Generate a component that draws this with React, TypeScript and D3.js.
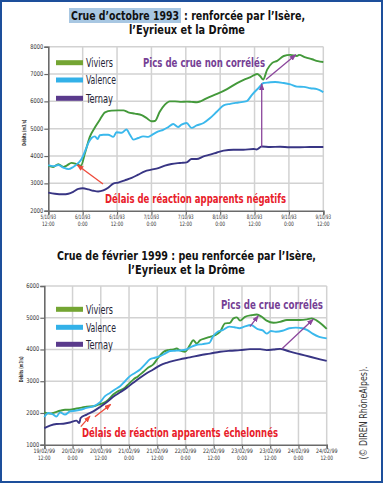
import React, { useEffect, useRef } from 'react';
import * as d3 from 'd3';

// ---- 1993 flood: [hours since 5/10/93 12:00, m3/s]
const dates93 = [
	['5/10/93', '12:00'], ['6/10/93', '0:00'], ['6/10/93', '12:00'], ['7/10/93', '0:00'], ['7/10/93', '12:00'],
	['8/10/93', '0:00'], ['8/10/93', '12:00'], ['9/10/93', '0:00'], ['9/10/93', '12:00'],
];
const yTicks93 = [2000, 3000, 4000, 5000, 6000, 7000, 8000];

const viviers93: [number, number][] = [
	[0, 3650], [1.7, 3600], [3.5, 3700], [5.2, 3600], [6.4, 3650], [8.1, 3750], [9.9, 3700], [11.4, 3650],
	[12.8, 4100], [14.5, 4700], [16.3, 5050], [18, 5330], [19.8, 5600], [22.1, 5660], [24.4, 5670], [26.2, 5670],
	[27.9, 5600], [30.2, 5550], [32.6, 5500], [34.3, 5390], [36, 5270], [37.2, 5280], [38.9, 5620], [40.7, 5880],
	[42.4, 6000], [44.2, 6000], [46.5, 5980], [48.3, 5990], [50, 5980], [51.9, 5970], [53.1, 6000], [55.4, 6120],
	[58.9, 6270], [62.4, 6450], [65.9, 6670], [68.2, 6790], [70.6, 6890], [72.9, 7000], [74, 6920], [75, 6800],
	[76.4, 7160], [78.1, 7400], [79.9, 7480], [82.2, 7660], [84.5, 7700], [86.8, 7660], [87.5, 7700], [89.8, 7610],
	[92.1, 7540], [94.1, 7470], [96, 7440],
];
const valence93: [number, number][] = [
	[0, 3670], [1.7, 3630], [3.5, 3670], [5.2, 3580], [7, 3520], [8.7, 3600], [10.5, 3750], [11.6, 3890],
	[12.8, 4170], [14, 4480], [15.1, 4660], [16.3, 4720], [17.2, 4620], [18, 4760], [19.2, 4780], [20.9, 4780],
	[22.7, 4700], [23.8, 4870], [25.6, 4850], [27.3, 4970], [28.5, 4780], [29.7, 4600], [31.4, 4660], [33.1, 4720],
	[34.9, 4700], [36.6, 4800], [38.4, 4900], [40.1, 4960], [41.9, 5060], [43.6, 5170], [45.3, 5060], [46.5, 5150],
	[48.3, 5210], [50, 5030], [51.8, 5120], [54.2, 5210], [56.5, 5390], [58.9, 5630], [61.2, 5850], [63.5, 5910],
	[66.4, 5960], [69.3, 6010], [71.1, 6240], [73.4, 6490], [75.1, 6670], [76.9, 6690], [79.2, 6710], [82.2, 6670],
	[84.5, 6620], [86.8, 6540], [89.2, 6530], [91.5, 6480], [93.8, 6450], [96, 6340],
];
const ternay93: [number, number][] = [
	[0, 2660], [2.3, 2620], [5.2, 2600], [7, 2620], [8.7, 2690], [10.5, 2800], [12, 2820], [14, 2780],
	[15.7, 2730], [17.4, 2700], [19.2, 2740], [20.9, 2840], [22.7, 2990], [24.4, 3030], [26.7, 3110], [29.1, 3200],
	[31.4, 3320], [33.7, 3440], [36, 3500], [38.4, 3560], [40.7, 3650], [43, 3710], [45.3, 3740], [46.5, 3750],
	[48.3, 3770], [50, 3890], [51.8, 3890], [54.2, 3990], [56.5, 4050], [58.9, 4130], [61.2, 4200], [64.6, 4230],
	[68.1, 4230], [71.6, 4260], [72.7, 4240], [74.5, 4350], [77.4, 4330], [80.9, 4340], [84.3, 4320], [87.8, 4320],
	[91.3, 4330], [96, 4330],
];

// ---- 1999 flood: [hours since 19/02/99 12:00, m3/s]
const dates99 = [
	['19/02/99', '12:00'], ['20/02/99', '0:00'], ['20/02/99', '12:00'], ['21/02/99', '0:00'], ['21/02/99', '12:00'],
	['22/02/99', '0:00'], ['22/02/99', '12:00'], ['23/02/99', '0:00'], ['23/02/99', '12:00'], ['24/02/99', '0:00'],
	['24/02/99', '12:00'],
];
const yTicks99 = [1000, 2000, 3000, 4000, 5000, 6000];

const viviers99: [number, number][] = [
	[0, 2020], [2.4, 1980], [4.5, 2020], [6.7, 2070], [8.8, 2100], [10.9, 2100], [13.7, 2140], [15.9, 2170],
	[18, 2200], [20.8, 2210], [22.9, 2260], [25, 2310], [27.2, 2420], [29.3, 2580], [31.4, 2690], [33.6, 2760],
	[35.7, 2900], [37.8, 3050], [39.9, 3160], [42, 3290], [44.2, 3430], [46.3, 3530], [48.4, 3740], [50.6, 3920],
	[52.7, 3980], [54.8, 4000], [56.2, 4030], [57.6, 3970], [59.8, 3930], [61.9, 4140], [63.3, 4290], [64.8, 4190],
	[66.2, 4290], [68.3, 4350], [70.4, 4400], [72.6, 4450], [74.7, 4560], [76.8, 4820], [78.9, 4840], [80.4, 4980],
	[81.8, 5010], [83.2, 4910], [85.3, 5030], [88.1, 5080], [90.3, 5100], [92.4, 5030], [94.5, 4910], [97.4, 4840],
	[100.2, 4870], [103.1, 4930], [105.9, 4930], [108.7, 4930], [111.6, 4950], [113.7, 4980], [115.8, 4910],
	[118, 4790], [120, 4650],
];
const valence99: [number, number][] = [
	[0, 1870], [1.7, 2000], [3.8, 1950], [5.2, 1890], [6.7, 2020], [8.8, 1950], [10.9, 2050], [13, 2070],
	[15.2, 2100], [18, 2160], [20.8, 2210], [23.7, 2340], [25.8, 2530], [27.9, 2630], [30, 2740], [32.2, 2840],
	[34.3, 3000], [36.4, 3160], [38.5, 3260], [40.7, 3370], [42.8, 3530], [44.9, 3690], [47, 3740], [49.2, 3790],
	[51.3, 3870], [53.4, 3950], [55.5, 3960], [57.6, 3970], [60.3, 4000], [62.4, 4080], [64.5, 4140], [67.3, 4170],
	[70.2, 4210], [71.6, 4400], [73.7, 4560], [75.8, 4610], [78.6, 4720], [80.8, 4700], [82.9, 4670], [85, 4720],
	[87.8, 4770], [90.7, 4640], [92.8, 4600], [94.5, 4500], [96.3, 4580], [98.4, 4560], [101.2, 4590], [104.1, 4670],
	[106.9, 4690], [109.7, 4670], [111.8, 4610], [114, 4500], [116.8, 4400], [120, 4350],
];
const ternay99: [number, number][] = [
	[0, 1520], [2.4, 1600], [5.2, 1650], [8.1, 1660], [10.9, 1700], [13.7, 1760], [14.9, 1680], [15.4, 1840],
	[18, 1950], [20.8, 2050], [23.7, 2190], [26.5, 2340], [29.3, 2510], [32.2, 2650], [35, 2790], [37.8, 2950],
	[40.7, 3110], [43.5, 3250], [46.3, 3370], [49.2, 3500], [52, 3580], [54.8, 3640], [57.6, 3690], [61.9, 3750],
	[66.2, 3820], [70.4, 3870], [74.7, 3930], [78.9, 3960], [83.2, 3980], [87.4, 4010], [91.7, 4010], [94.5, 3980],
	[97.4, 4000], [100.2, 4020], [101.6, 4000], [104.4, 3930], [108.7, 3850], [112.9, 3770], [117.2, 3690],
	[120, 3640],
];

// arrows in data coords: [h1, v1, h2, v2]
const pics93 = [[74.5, 4340, 74.5, 6640], [76, 6800, 86.4, 7710]];
const delais93 = [[19.1, 2975, 10.1, 3670]];
const pics99 = [[87.4, 4720, 90.9, 5060], [100.9, 4015, 114.3, 4950]];
const delais99 = [[15.5, 1570, 19.4, 1900], [21.5, 1880, 28.2, 2270]];

const stations = ['Viviers', 'Valence', 'Ternay'];
const lineColors = ['#43993a', '#3ab8ec', '#383584'];
const legendColors = ['#74a533', '#33b1e8', '#5a3a8c'];

const FONT = "'DejaVu Sans Condensed', 'Liberation Sans Narrow', 'Roboto Condensed', 'Open Sans', sans-serif";
const PURPLE = '#763f95';
const RED = '#e8202a';

function drawPanel(svg: any, p: any) {
	const x = d3.scaleLinear().domain([0, (p.dates.length - 1) * 12]).range([p.left, p.right]);
	const y = d3.scaleLinear().domain([p.yTicks[0], p.yTicks[p.yTicks.length - 1]]).range([p.bottom, p.top]);
	const g = svg.append('g');
	const hours = p.dates.map((_: any, i: number) => i * 12);

	// grid
	g.selectAll('line.gh').data(p.yTicks.slice(1)).join('line')
		.attr('x1', p.left).attr('x2', p.right)
		.attr('y1', (d: number) => y(d)).attr('y2', (d: number) => y(d))
		.attr('stroke', '#d2d2d2').attr('stroke-width', 1.5);
	g.selectAll('line.gv').data(hours.slice(1)).join('line')
		.attr('x1', (d: number) => x(d)).attr('x2', (d: number) => x(d))
		.attr('y1', p.top).attr('y2', p.bottom)
		.attr('stroke', '#d2d2d2').attr('stroke-width', 1.5);

	// axes
	const yAxis = g.append('g').attr('transform', `translate(${p.left},0)`)
		.call(d3.axisLeft(y).tickValues(p.yTicks).tickSize(4).tickFormat(() => ''));
	const xAxis = g.append('g').attr('transform', `translate(0,${p.bottom})`)
		.call(d3.axisBottom(x).tickValues(hours).tickSize(4).tickFormat(() => ''));
	[yAxis, xAxis].forEach((a) => {
		a.select('.domain').attr('stroke', '#6a6a6a').attr('stroke-width', 1.6);
		a.selectAll('.tick line').attr('stroke', '#6a6a6a').attr('stroke-width', 1.2);
	});

	g.selectAll('text.yl').data(p.yTicks).join('text')
		.attr('x', p.left - 5).attr('y', (d: number) => y(d) + 2)
		.attr('text-anchor', 'end').attr('font-family', FONT).attr('font-size', 6.5)
		.attr('fill', '#333').attr('textLength', 13).attr('lengthAdjust', 'spacingAndGlyphs')
		.text((d: number) => d);

	const xl = g.selectAll('g.xl').data(p.dates).join('g')
		.attr('transform', (_: any, i: number) => `translate(${x(i * 12)},0)`);
	xl.append('text').attr('y', p.bottom + 8.5).attr('text-anchor', 'middle')
		.attr('font-family', FONT).attr('font-size', 6).attr('fill', '#333')
		.attr('textLength', (d: string[]) => d[0].length * p.dateChar).attr('lengthAdjust', 'spacingAndGlyphs')
		.text((d: string[]) => d[0]);
	xl.append('text').attr('y', p.bottom + 15.5).attr('text-anchor', 'middle')
		.attr('font-family', FONT).attr('font-size', 6).attr('fill', '#333')
		.attr('textLength', (d: string[]) => d[1].length * 2.5).attr('lengthAdjust', 'spacingAndGlyphs')
		.text((d: string[]) => d[1]);

	g.append('text')
		.attr('transform', `translate(${p.yTitleX},${(p.top + p.bottom) / 2 + 4}) rotate(-90)`)
		.attr('text-anchor', 'middle').attr('font-family', FONT).attr('font-size', 5.5)
		.attr('font-weight', 'bold').attr('fill', '#333')
		.attr('textLength', 26).attr('lengthAdjust', 'spacingAndGlyphs')
		.text('Débits (m3/s)');

	// series
	const line = d3.line<[number, number]>().x((d) => x(d[0])).y((d) => y(d[1])).curve(d3.curveMonotoneX);
	g.selectAll('path.s').data(p.series).join('path')
		.attr('d', (d: [number, number][]) => line(d))
		.attr('fill', 'none')
		.attr('stroke', (_: any, i: number) => lineColors[i])
		.attr('stroke-width', 1.9)
		.attr('stroke-linejoin', 'round');

	// legend
	const lg = g.selectAll('g.lg').data(stations).join('g')
		.attr('transform', (_: any, i: number) => `translate(56,${p.legendY[i]})`);
	lg.append('line').attr('x1', 0).attr('x2', 27).attr('stroke-width', 5)
		.attr('stroke', (_: any, i: number) => legendColors[i]);
	lg.append('text').attr('x', 30).attr('y', 4.3)
		.attr('font-family', FONT).attr('font-size', 12.5).attr('fill', '#262636')
		.attr('textLength', (d: string) => (d === 'Valence' ? 30 : 27)).attr('lengthAdjust', 'spacingAndGlyphs')
		.text((d: string) => d);

	// annotations
	const arrows = (data: number[][], color: string, marker: string, w: number) => {
		g.selectAll(null).data(data).join('line')
			.attr('x1', (d: number[]) => x(d[0])).attr('y1', (d: number[]) => y(d[1]))
			.attr('x2', (d: number[]) => x(d[2])).attr('y2', (d: number[]) => y(d[3]))
			.attr('stroke', color).attr('stroke-width', w).attr('marker-end', `url(#${marker})`);
	};
	arrows(p.pics, '#8b469c', 'arrP', 1.3);
	arrows(p.delais, '#ee4a3b', 'arrR', 1.3);

	p.notes.forEach((n: any) => {
		g.append('text').attr('x', n.x).attr('y', n.y)
			.attr('font-family', FONT).attr('font-size', 12.5).attr('font-weight', 'bold')
			.attr('fill', n.color).attr('textLength', n.w).attr('lengthAdjust', 'spacingAndGlyphs')
			.text(n.text);
	});
}

export default function App() {
	const ref = useRef<SVGSVGElement>(null);

	useEffect(() => {
		const svg = d3.select(ref.current);
		svg.selectAll('*').remove();

		const defs = svg.append('defs');
		[['arrP', '#8b469c'], ['arrR', '#ee4a3b']].forEach(([id, c]) => {
			defs.append('marker').attr('id', id).attr('viewBox', '0 0 8 6')
				.attr('refX', 7).attr('refY', 3).attr('markerWidth', 7).attr('markerHeight', 5.5)
				.attr('markerUnits', 'userSpaceOnUse').attr('orient', 'auto')
				.append('path').attr('d', 'M0,0 L8,3 L0,6 z').attr('fill', c);
		});

		svg.append('rect').attr('x', 0).attr('y', 0).attr('width', 385).attr('height', 484).attr('fill', '#fff');
		svg.append('rect').attr('x', 1).attr('y', 1).attr('width', 381).attr('height', 481)
			.attr('fill', 'none').attr('stroke', '#1d4f9b').attr('stroke-width', 2);

		// titles
		svg.append('rect').attr('x', 69).attr('y', 8).attr('width', 112).attr('height', 15).attr('fill', '#a8c7e2');
		const title = (t: string, tx: number, ty: number, w: number) =>
			svg.append('text').attr('x', tx).attr('y', ty).attr('font-family', FONT).attr('font-size', 12)
				.attr('font-weight', 'bold').attr('fill', '#111')
				.attr('textLength', w).attr('lengthAdjust', 'spacingAndGlyphs').text(t);
		title('Crue d’octobre 1993', 71, 20, 108);
		title(': renforcée par l’Isère,', 184, 20, 121);
		title('l’Eyrieux et la Drôme', 129, 34, 116);
		title('Crue de février 1999 : peu renforcée par l’Isère,', 57, 260, 259);
		title('l’Eyrieux et la Drôme', 128, 274, 117);

		drawPanel(svg, {
			dates: dates93, yTicks: yTicks93, left: 48.3, right: 323.3, top: 46.7, bottom: 210.7,
			series: [viviers93, valence93, ternay93], legendY: [62.7, 80, 98.3], yTitleX: 26, dateChar: 2.2,
			pics: pics93, delais: delais93,
			notes: [
				{ text: 'Pics de crue non corrélés', x: 143, y: 66.5, w: 122, color: PURPLE },
				{ text: 'Délais de réaction apparents négatifs', x: 105, y: 202.5, w: 181, color: RED },
			],
		});
		drawPanel(svg, {
			dates: dates99, yTicks: yTicks99, left: 44.3, right: 326.7, top: 286, bottom: 444.7,
			series: [viviers99, valence99, ternay99], legendY: [309.3, 327.3, 344.3], yTitleX: 22.5, dateChar: 2.7,
			pics: pics99, delais: delais99,
			notes: [
				{ text: 'Pics de crue corrélés', x: 221, y: 309, w: 102, color: PURPLE },
				{ text: 'Délais de réaction apparents échelonnés', x: 82, y: 437, w: 196, color: RED },
			],
		});

		svg.append('text').attr('transform', 'translate(367,413) rotate(-90)')
			.attr('text-anchor', 'middle').attr('font-family', FONT).attr('font-size', 10.5).attr('fill', '#333')
			.attr('textLength', 93).attr('lengthAdjust', 'spacingAndGlyphs')
			.text('(© DIREN RhôneAlpes).');
	}, []);

	return (
		<svg ref={ref} width={385} height={484} style={{ position: 'absolute', left: 0, top: 0, display: 'block' }} />
	);
}
